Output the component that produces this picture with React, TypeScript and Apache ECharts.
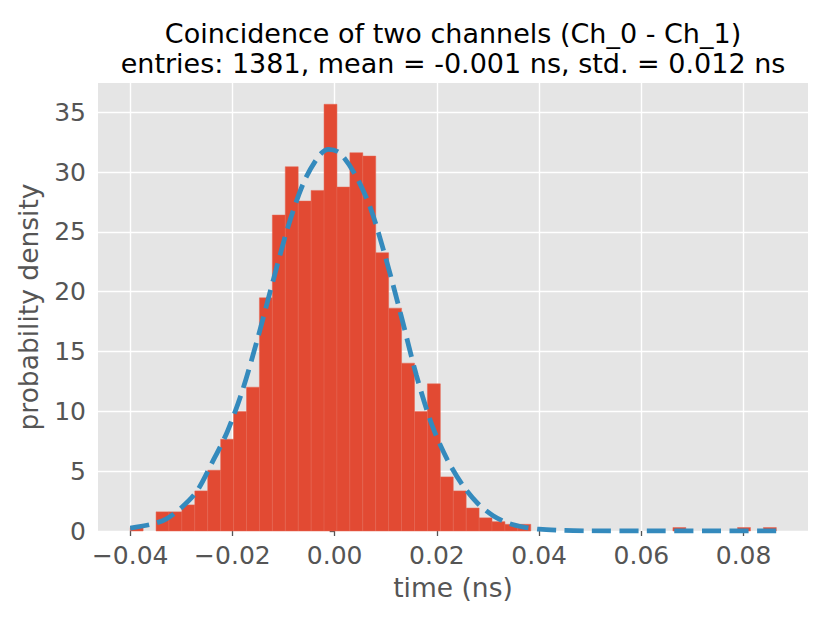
import React, { useEffect, useRef } from "react";
import * as echarts from "echarts";

// Histogram (50 bins, density)
const binLeft = -0.04;
const binRight = 0.0864;
const density = [
  0.29, 0, 1.6, 1.6, 2.18, 3.35, 5.08, 7.67, 9.98, 12.02,
  19.49, 26.41, 30.45, 27.58, 28.47, 35.67, 28.75, 31.62, 31.34, 23.26,
  18.63, 14.03, 9.98, 12.3, 4.52, 3.35, 1.92, 1.1, 0.78, 0.56,
  0.56, 0, 0, 0, 0, 0, 0, 0, 0, 0,
  0, 0, 0.29, 0, 0, 0, 0, 0.29, 0, 0.29,
];

// Fitted gaussian curve
const curveX = [
  -0.04, -0.036, -0.033, -0.03, -0.027, -0.024, -0.021, -0.018, -0.015, -0.012,
  -0.009, -0.006, -0.003, -0.0012, 0.001, 0.004, 0.007, 0.01, 0.013, 0.016,
  0.019, 0.022, 0.025, 0.028, 0.031, 0.034, 0.037, 0.04, 0.045, 0.05,
  0.06, 0.0864,
];
const curveY = [
  0.25, 0.55, 1.0, 1.95, 3.3, 5.7, 8.3, 11.8, 16.2, 21.0,
  25.6, 29.2, 31.4, 31.9, 31.6, 29.8, 27.0, 22.8, 18.0, 13.0,
  8.9, 6.0, 3.85, 2.3, 1.28, 0.65, 0.33, 0.15, 0.05, 0.01,
  0, 0,
];

const xTicks = [-0.04, -0.02, 0.0, 0.02, 0.04, 0.06, 0.08];
const yTicks = [0, 5, 10, 15, 20, 25, 30, 35];

const titleLine1 = "Coincidence of two channels (Ch_0 - Ch_1)";
const titleLine2 = "entries: 1381, mean = -0.001 ns, std. = 0.012 ns";
const xName = "time (ns)";
const yName = "probability density";

const FONT = "DejaVu Sans";

export default function App() {
  const ref = useRef<HTMLDivElement>(null);

  useEffect(() => {
    if (!ref.current) return;
    const chart = echarts.init(ref.current, undefined, { renderer: "svg" });
    const w = (binRight - binLeft) / density.length;
    const bars = density.map((d, i) => [binLeft + i * w, binLeft + (i + 1) * w, d]);

    const gridLeft = 98;
    const gridRight = 22;
    const gridTop = 83;
    const gridBottom = 92;
    const cx = gridLeft + (830 - gridLeft - gridRight) / 2;

    chart.setOption({
      animation: false,
      backgroundColor: "#ffffff",
      grid: {
        left: gridLeft,
        right: gridRight,
        top: gridTop,
        bottom: gridBottom,
        show: true,
        backgroundColor: "#E5E5E5",
        borderWidth: 0,
      },
      xAxis: {
        type: "value",
        min: -0.0463,
        max: 0.0926,
        axisLine: { show: false },
        axisTick: {
          show: true,
          length: 5,
          lineStyle: { color: "#555555", width: 1.3 },
          customValues: xTicks,
        },
        axisLabel: {
          customValues: xTicks,
          margin: 12,
          fontFamily: FONT,
          fontSize: 25,
          color: "#555555",
          formatter: (v: number) => {
            const s = Math.abs(v).toFixed(2);
            return v < -1e-9 ? "\u2212" + s : s;
          },
        },
        splitLine: {
          show: true,
          lineStyle: { color: "#ffffff", width: 1.4 },
        },
      },
      yAxis: {
        type: "value",
        min: 0,
        max: 37.45,
        axisLine: { show: false },
        axisTick: {
          show: true,
          length: 5,
          lineStyle: { color: "#555555", width: 1.3 },
          customValues: yTicks,
        },
        axisLabel: {
          customValues: yTicks,
          margin: 12,
          fontFamily: FONT,
          fontSize: 25,
          color: "#555555",
        },
        splitLine: {
          show: true,
          lineStyle: { color: "#ffffff", width: 1.4 },
        },
      },
      series: [
        {
          type: "custom",
          data: bars,
          encode: { x: [0, 1], y: 2 },
          renderItem: (params: any, api: any) => {
            const h = api.value(2);
            if (!(h > 0)) return null;
            const p0 = api.coord([api.value(0), h]);
            const p1 = api.coord([api.value(1), 0]);
            return {
              type: "rect",
              shape: { x: p0[0], y: p0[1], width: p1[0] - p0[0], height: p1[1] - p0[1] },
              style: { fill: "#E24A33", stroke: "#E66550", lineWidth: 0.5 },
            };
          },
          z: 2,
        },
        {
          type: "line",
          data: curveX.map((x, i) => [x, curveY[i]]),
          showSymbol: false,
          symbol: "none",
          smooth: 0.3,
          clip: true,
          lineStyle: { color: "#348ABD", width: 4.8, type: [19, 8.5], cap: "butt" },
          z: 3,
        },
      ],
      graphic: [
        {
          type: "text",
          x: cx,
          y: 33.5,
          style: {
            text: titleLine1,
            font: `27px "${FONT}"`,
            fill: "#000000",
            align: "center",
            verticalAlign: "middle",
            textAlign: "center",
            textVerticalAlign: "middle",
          },
        },
        {
          type: "text",
          x: cx,
          y: 63,
          style: {
            text: titleLine2,
            font: `27px "${FONT}"`,
            fill: "#000000",
            align: "center",
            verticalAlign: "middle",
            textAlign: "center",
            textVerticalAlign: "middle",
          },
        },
        {
          type: "text",
          x: cx,
          y: 587,
          style: {
            text: xName,
            font: `26.5px "${FONT}"`,
            fill: "#555555",
            align: "center",
            verticalAlign: "middle",
            textAlign: "center",
            textVerticalAlign: "middle",
          },
        },
        {
          type: "text",
          x: 28.5,
          y: gridTop + (623 - gridTop - gridBottom) / 2,
          rotation: Math.PI / 2,
          style: {
            text: yName,
            font: `26.5px "${FONT}"`,
            fill: "#555555",
            align: "center",
            verticalAlign: "middle",
            textAlign: "center",
            textVerticalAlign: "middle",
          },
        },
      ],
    });
    return () => chart.dispose();
  }, []);

  return (
    <div
      ref={ref}
      style={{ position: "fixed", left: 0, top: 0, width: 830, height: 623, background: "#fff" }}
    />
  );
}
